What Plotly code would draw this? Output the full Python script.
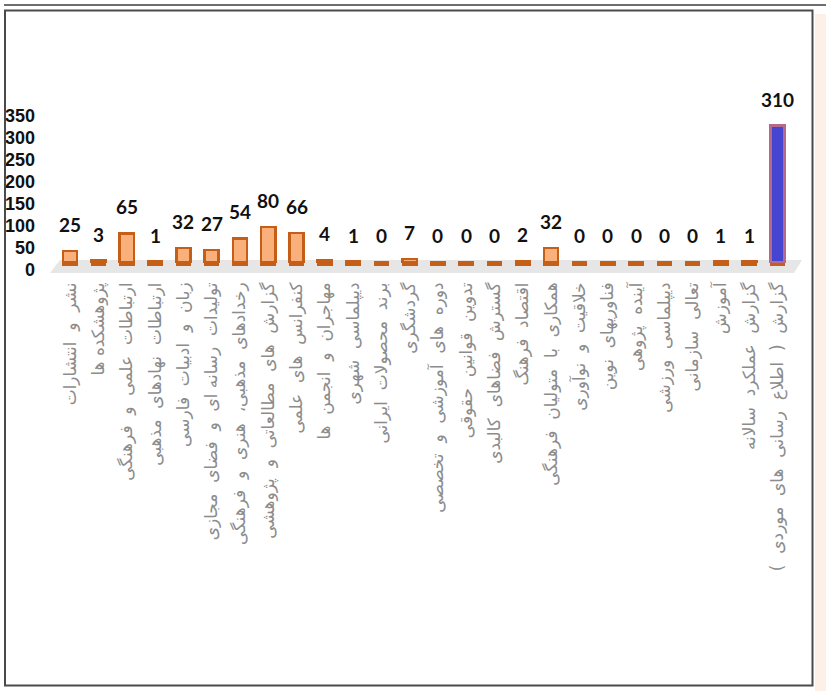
import plotly.graph_objects as go

categories = [
    "نشر  و  انتشارات",
    "پژوهشکده ها",
    "ارتباطات  علمی  و  فرهنگی",
    "ارتباطات  نهادهای  مذهبی",
    "زبان  و  ادبیات  فارسی",
    "تولیدات  رسانه ای  و  فضای  مجازی",
    "رخدادهای  مذهبی،  هنری  و  فرهنگی",
    "گزارش  های  مطالعاتی  و  پژوهشی",
    "کنفرانس  های  علمی",
    "مهاجران  و  انجمن  ها",
    "دیپلماسی  شهری",
    "برند  محصولات  ایرانی",
    "گردشگری",
    "دوره  های  آموزشی  و  تخصصی",
    "تدوین  قوانین  حقوقی",
    "گسترش  فضاهای  کالبدی",
    "اقتصاد  فرهنگ",
    "همکاری  با  متولیان  فرهنگی",
    "خلاقیت  و  نوآوری",
    "فناوریهای  نوین",
    "آینده  پژوهی",
    "دیپلماسی  ورزشی",
    "تعالی  سازمانی",
    "آموزش",
    "گزارش  عملکرد  سالانه",
    "گزارش  (  اطلاع  رسانی  های  موردی  )",
]
values = [25, 3, 65, 1, 32, 27, 54, 80, 66, 4, 1, 0, 7, 0, 0, 0, 2, 32, 0, 0, 0, 0, 0, 1, 1, 310]
y_ticks = [0, 50, 100, 150, 200, 250, 300, 350]

W, H = 826, 691
L, R, T, B = 56, 30, 112, 425
PW, PH = W - L - R, H - T - B

def px(x):
    return (x - L) / PW

def py(y):
    return (H - B - y) / PH

ORANGE_FILL = "#F9B07A"
ORANGE_LINE = "#C55F17"
BLUE_FILL = "#4545CF"
BLUE_LINE = "#B46A8C"
STUB = 9

vmax = max(values)
fills = [BLUE_FILL if v == vmax else ORANGE_FILL for v in values]
lines = [BLUE_LINE if v == vmax else ORANGE_LINE for v in values]

fig = go.Figure()
fig.add_trace(go.Bar(
    x=categories, y=[STUB] * len(categories),
    marker=dict(color=ORANGE_LINE, line=dict(color=ORANGE_LINE, width=1.5)),
    hoverinfo="skip", showlegend=False,
))
fig.add_trace(go.Bar(
    x=categories, y=values,
    marker=dict(color=fills, line=dict(color=lines, width=2.5)),
    showlegend=False,
))

for c, v in zip(categories, values):
    fig.add_annotation(
        x=c, y=v, text=str(v), showarrow=False, yanchor="bottom", yshift=17,
        font=dict(family="Lato", size=19, color="#111111", weight="bold"),
    )

shapes = [
    # floor
    dict(type="path", xref="paper", yref="paper", layer="below",
         path=f"M {px(50)} {py(273)} L {px(60)} {py(260)} L {px(802)} {py(260)} L {px(794)} {py(273)} Z",
         fillcolor="#E6E6E6", line=dict(width=0)),
    # peach side band
    dict(type="rect", xref="paper", yref="paper", layer="below",
         x0=px(815), x1=px(826), y0=py(691), y1=py(14),
         fillcolor="#FDF0E6", line=dict(width=0)),
    # outer top line
    dict(type="line", xref="paper", yref="paper", x0=px(4), x1=px(826), y0=py(5), y1=py(5),
         line=dict(color="#6E6E6E", width=2)),
    # inner frame
    dict(type="rect", xref="paper", yref="paper", x0=px(5), x1=px(812.5), y0=py(685.5), y1=py(10.5),
         line=dict(color="#4A4A4A", width=2), fillcolor="rgba(0,0,0,0)"),
]

fig.update_layout(
    width=W, height=H,
    margin=dict(l=L, r=R, t=T, b=B, autoexpand=False),
    paper_bgcolor="white", plot_bgcolor="rgba(0,0,0,0)",
    barmode="stack", bargap=0.5,
    shapes=shapes,
    xaxis=dict(
        type="category", tickangle=-90, showgrid=False, zeroline=False, showline=False,
        ticks="", ticklabelstandoff=12, automargin=False,
        tickfont=dict(family="DejaVu Sans", size=17, color="#8C8C8C"),
    ),
    yaxis=dict(
        range=[0, 350], tickvals=y_ticks, showgrid=False, zeroline=False, showline=False,
        ticks="", ticklabelstandoff=20, ticklabelshift=4, automargin=False,
        tickfont=dict(family="Liberation Sans Narrow, Liberation Sans, sans-serif", size=18,
                      color="#111111", weight="bold"),
    ),
)

fig.write_html("out.html")
